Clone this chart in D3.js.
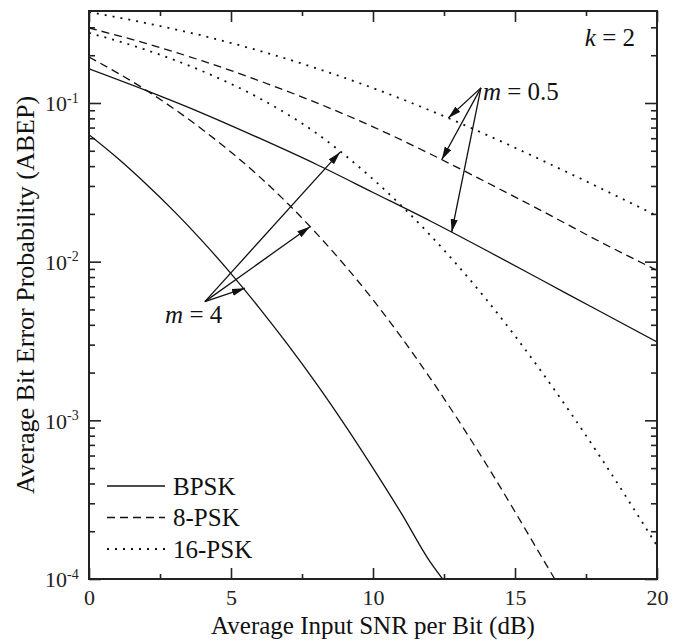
<!DOCTYPE html>
<html>
<head>
<meta charset="utf-8">
<script src="https://cdn.jsdelivr.net/npm/d3@7"></script>
<style>
  body { margin: 0; background: #fff; }
  svg { display: block; font-family: "Liberation Serif", "Times New Roman", serif; }
</style>
</head>
<body>
<svg id="chart" width="679" height="642"></svg>
<script>
// values (ABEP vs average SNR per bit, k = 2)
var snrDb = [0, 2, 4, 6, 8, 10, 12, 14, 16, 18, 20];
var bpskM05 = [0.164, 0.120, 0.0861, 0.060, 0.0411, 0.0273, 0.0181, 0.01175, 0.00755, 0.00485, 0.00312];
var psk8M05 = [0.297, 0.2377, 0.184, 0.138, 0.1005, 0.0708, 0.0479, 0.0316, 0.02065, 0.01334, 0.00881];
var psk16M05 = [0.375, 0.319, 0.2655, 0.2133, 0.1656, 0.1242, 0.0899, 0.0630, 0.0431, 0.0291, 0.01945];
var psk16M4 = [0.2767, 0.2163, 0.1585, 0.1072, 0.0646, 0.0331, 0.01479, 0.00575, 0.00195, 0.000589, 0.000162];

var bpskM4Snr = [0, 1, 2, 3, 4, 5, 6, 7, 8, 9, 10, 11, 12, 12.45];
var bpskM4 = [0.0631, 0.0450, 0.0310, 0.02075, 0.01343, 0.00841, 0.0051, 0.0030, 0.00171, 0.00094, 0.0005, 0.000259, 0.000129, 0.0001];
var psk8M4Snr = [0, 2, 4, 6, 8, 10, 12, 14, 16, 16.4];
var psk8M4 = [0.195, 0.1208, 0.0679, 0.03436, 0.01514, 0.00575, 0.00186, 0.000525, 0.000132, 0.0001];

var xMajorTicks = [0, 5, 10, 15, 20];
var xMinorTicks = [2.5, 7.5, 12.5, 17.5];
var yMajorTicks = [1e-4, 1e-3, 1e-2, 1e-1];
var yTickExponents = ["-4", "-3", "-2", "-1"];

var legendLabels = ["BPSK", "8-PSK", "16-PSK"];

// annotation anchors in data units [snr, abep]
var m05Origin = [13.8, 0.1245];
var m05Tips = [[12.65, 0.0804], [12.42, 0.0439], [12.77, 0.01535]];
var m4Origin = [4.08, 0.0056];
var m4Tips = [[8.84, 0.049], [7.78, 0.0166], [5.49, 0.0068]];

initApp();

function initApp() {
  var svg = d3.select("#chart"),
      margin = {top: 11, right: 22, bottom: 63, left: 89},
      width = +svg.attr("width") - margin.left - margin.right,
      height = +svg.attr("height") - margin.top - margin.bottom;

  var x = d3.scaleLinear().domain([0, 20]).range([0, width]),
      y = d3.scaleLog().domain([1e-4, 0.38]).range([height, 0]);

  var defs = svg.append("defs");
  defs.append("clipPath").attr("id", "plotClip")
    .append("rect").attr("width", width).attr("height", height);
  defs.append("marker")
      .attr("id", "arrowHead")
      .attr("markerUnits", "userSpaceOnUse")
      .attr("viewBox", "0 -4 13 8")
      .attr("refX", 13).attr("refY", 0)
      .attr("markerWidth", 13).attr("markerHeight", 8)
      .attr("orient", "auto")
    .append("path")
      .attr("d", "M0,-3.6L13,0L0,3.6Z")
      .attr("fill", "#111");

  var g = svg.append("g")
      .attr("transform", "translate(" + margin.left + "," + margin.top + ")");

  // minor ticks for the log axis
  var yMinorTicks = [];
  yMajorTicks.forEach(function(d) {
    for (var k = 2; k <= 9; k++) {
      if (d * k < y.domain()[1]) yMinorTicks.push(d * k);
    }
  });

  function styleAxis(sel) {
    sel.select(".domain").remove();
    sel.selectAll(".tick line").attr("stroke", "#222").attr("stroke-width", 1.6);
    sel.selectAll("text").attr("fill", "#222");
  }

  // bottom axis
  g.append("g")
      .attr("transform", "translate(0," + height + ")")
      .call(d3.axisBottom(x).tickValues(xMajorTicks).tickSize(-11).tickPadding(10).tickSizeOuter(0))
      .attr("font-size", 22).attr("font-family", null)
      .call(styleAxis);
  g.append("g")
      .attr("transform", "translate(0," + height + ")")
      .call(d3.axisBottom(x).tickValues(xMinorTicks).tickSize(-5).tickFormat("").tickSizeOuter(0))
      .call(styleAxis);
  // top axis (mirror)
  g.append("g")
      .call(d3.axisTop(x).tickValues(xMajorTicks).tickSize(-11).tickFormat("").tickSizeOuter(0))
      .call(styleAxis);
  g.append("g")
      .call(d3.axisTop(x).tickValues(xMinorTicks).tickSize(-5).tickFormat("").tickSizeOuter(0))
      .call(styleAxis);

  // left axis
  var yAxis = g.append("g")
      .call(d3.axisLeft(y).tickValues(yMajorTicks).tickSize(-12).tickPadding(11).tickSizeOuter(0))
      .attr("font-size", 22).attr("font-family", null)
      .call(styleAxis);
  yAxis.selectAll(".tick text").each(function(d, i) {
    var t = d3.select(this);
    t.text("10").attr("dy", "0.36em");
    t.append("tspan")
      .attr("font-size", 14)
      .attr("dy", "-0.62em")
      .text(yTickExponents[i]);
  });
  yAxis.selectAll(".tick text").attr("text-anchor", "start")
      .attr("x", -44);
  g.append("g")
      .call(d3.axisLeft(y).tickValues(yMinorTicks).tickSize(-6).tickFormat("").tickSizeOuter(0))
      .call(styleAxis);
  // right axis (mirror)
  g.append("g")
      .attr("transform", "translate(" + width + ",0)")
      .call(d3.axisRight(y).tickValues(yMajorTicks).tickSize(-12).tickFormat("").tickSizeOuter(0))
      .call(styleAxis);
  g.append("g")
      .attr("transform", "translate(" + width + ",0)")
      .call(d3.axisRight(y).tickValues(yMinorTicks).tickSize(-6).tickFormat("").tickSizeOuter(0))
      .call(styleAxis);

  // curves
  var series = [
    {snr: snrDb, v: bpskM05, dash: null},
    {snr: bpskM4Snr, v: bpskM4, dash: null},
    {snr: snrDb, v: psk8M05, dash: "8,5"},
    {snr: psk8M4Snr, v: psk8M4, dash: "8,5"},
    {snr: snrDb, v: psk16M05, dash: "2,6"},
    {snr: snrDb, v: psk16M4, dash: "2,6"}
  ];

  var line = d3.line()
      .x(function(d) { return x(d[0]); })
      .y(function(d) { return y(d[1]); })
      .curve(d3.curveMonotoneX);

  var plot = g.append("g").attr("clip-path", "url(#plotClip)");
  plot.selectAll(".curve")
    .data(series)
    .enter().append("path")
      .attr("class", "curve")
      .attr("fill", "none")
      .attr("stroke", "#111")
      .attr("stroke-width", function(d) { return d.dash === "2,6" ? 1.8 : 1.3; })
      .attr("stroke-dasharray", function(d) { return d.dash; })
      .attr("d", function(d) {
        return line(d.snr.map(function(s, i) { return [s, d.v[i]]; }));
      });

  // arrows
  function drawArrows(origin, tips) {
    g.selectAll(null)
      .data(tips)
      .enter().append("line")
        .attr("x1", x(origin[0])).attr("y1", y(origin[1]))
        .attr("x2", function(d) { return x(d[0]); })
        .attr("y2", function(d) { return y(d[1]); })
        .attr("stroke", "#111")
        .attr("stroke-width", 1.3)
        .attr("marker-end", "url(#arrowHead)");
  }
  drawArrows(m05Origin, m05Tips);
  drawArrows(m4Origin, m4Tips);

  function mathLabel(px, py, sym, rest) {
    var t = g.append("text")
        .attr("x", px).attr("y", py)
        .attr("font-size", 25)
        .attr("fill", "#111");
    t.append("tspan").attr("font-style", "italic").text(sym);
    t.append("tspan").text(rest);
    return t;
  }
  mathLabel(x(13.87), y(0.105), "m", " = 0.5");
  mathLabel(x(2.68), y(0.00411), "m", " = 4");
  mathLabel(x(17.46), y(0.2275), "k", " = 2");

  // legend
  var legendDash = [null, "8,5", "2,6"];
  var legend = g.append("g").attr("transform", "translate(18,475)");
  legendLabels.forEach(function(label, i) {
    var row = legend.append("g").attr("transform", "translate(0," + (i * 31.5) + ")");
    row.append("line")
      .attr("x1", 0).attr("x2", 58)
      .attr("stroke", "#111")
      .attr("stroke-width", legendDash[i] === "2,6" ? 1.8 : 1.3)
      .attr("stroke-dasharray", legendDash[i]);
    row.append("text")
      .attr("x", 66).attr("y", 8.5)
      .attr("font-size", 25)
      .attr("fill", "#111")
      .text(label);
  });

  // frame
  g.append("rect")
    .attr("width", width).attr("height", height)
    .attr("fill", "none")
    .attr("stroke", "#222")
    .attr("stroke-width", 2);

  // axis titles
  svg.append("text")
    .attr("x", margin.left + width / 2)
    .attr("y", 634)
    .attr("text-anchor", "middle")
    .attr("font-size", 25)
    .attr("fill", "#111")
    .text("Average Input SNR per Bit (dB)");

  svg.append("text")
    .attr("transform", "translate(34," + (margin.top + height / 2) + ") rotate(-90)")
    .attr("text-anchor", "middle")
    .attr("font-size", 26)
    .attr("fill", "#111")
    .text("Average Bit Error Probability (ABEP)");
}
</script>
</body>
</html>
